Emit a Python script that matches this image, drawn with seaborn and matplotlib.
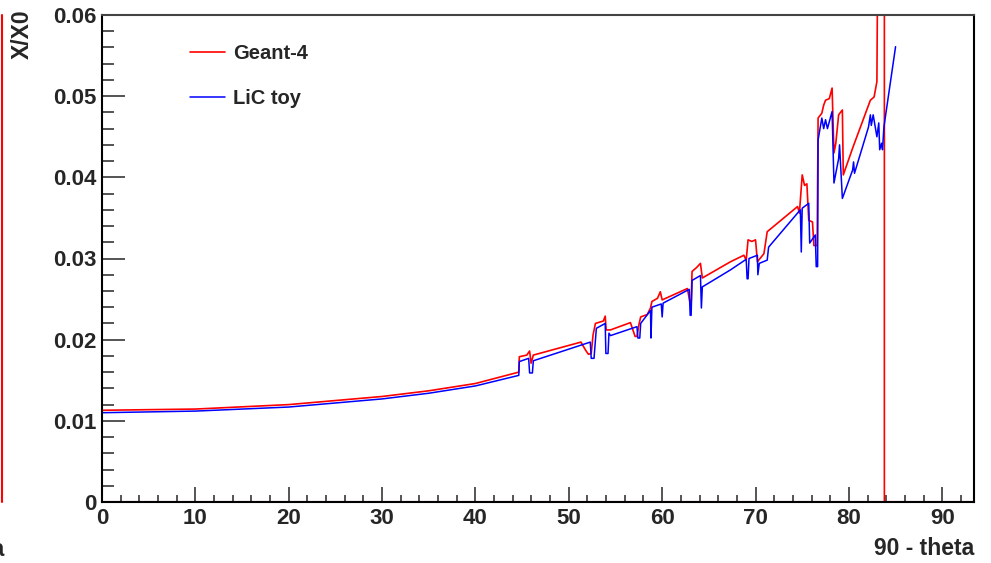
"""
X/X0 material budget vs 90 - theta: Geant-4 against LiC toy
"""
import numpy as np
import pandas as pd
import matplotlib
matplotlib.use('Agg')
import matplotlib.pyplot as plt
from matplotlib.ticker import MultipleLocator, FuncFormatter
from matplotlib.lines import Line2D
import seaborn as sns

# Geant-4 (red)
g4_angle = [0, 10, 20, 30, 35, 40, 44.64, 44.7, 45.5, 45.8, 45.96, 46.2, 51.3, 51.8, 52.1, 52.4,
            52.6, 52.85, 53.7, 53.9, 54.0, 54.46, 56.6, 57.1, 57.3, 57.5, 57.7, 58.4, 58.75,
            58.9, 59.5, 59.8, 60.0, 62.7, 62.96, 63.1, 63.2, 63.7, 64.1, 64.3, 67.32, 68.75,
            69.0, 69.2, 69.6, 70.0, 70.2, 70.9, 71.25, 74.5, 74.7, 75.0, 75.25, 75.5, 75.7,
            76.1, 76.25, 76.6, 76.7, 77.1, 77.3, 77.5, 77.9, 78.2, 78.4, 78.6, 78.9, 79.3,
            79.4, 80.4, 82.3, 82.7, 83.0, 83.1, 83.8, 83.8, 93.4, 93.4]
g4_x0 = [0.0113, 0.01145, 0.0120, 0.0130, 0.0137, 0.0146, 0.0160, 0.0179, 0.0181, 0.0186,
         0.0171, 0.0181, 0.0197, 0.0187, 0.0182, 0.0183, 0.0206, 0.0220, 0.0223, 0.0229,
         0.0212, 0.0212, 0.0221, 0.0204, 0.0204, 0.0218, 0.0228, 0.0231, 0.0239, 0.0247,
         0.0251, 0.0259, 0.0249, 0.0263, 0.0247, 0.0243, 0.0284, 0.0289, 0.0294, 0.0276,
         0.0296, 0.0304, 0.0298, 0.0323, 0.0321, 0.0323, 0.0296, 0.0306, 0.0333, 0.0364,
         0.0356, 0.0403, 0.0390, 0.0392, 0.0347, 0.0345, 0.0316, 0.0316, 0.0473, 0.0479,
         0.0489, 0.0495, 0.0497, 0.0510, 0.0430, 0.0442, 0.0477, 0.0483, 0.0403, 0.0436,
         0.0495, 0.0499, 0.0518, 0.0700, 0.0700, 0.0, 0.0, 0.0700]

# LiC toy (blue)
lic_angle = [0, 10, 20, 30, 35, 40, 44.64, 44.7, 45.7, 45.8, 46.1, 46.2, 52.3, 52.4, 52.7,
             52.95, 53.9, 53.97, 54.2, 54.3, 54.46, 57.3, 57.4, 57.6, 57.7, 58.75, 58.8,
             58.9, 59.9, 60.0, 60.1, 62.9, 63.0, 63.1, 63.2, 64.1, 64.2, 64.3, 67.32, 69.0,
             69.1, 69.2, 69.3, 70.2, 70.25, 70.4, 71.25, 71.4, 74.8, 74.9, 75.0, 75.7, 75.8,
             76.4, 76.5, 76.65, 76.7, 77.1, 77.3, 77.5, 77.7, 78.2, 78.4, 78.6, 78.9, 79.0,
             79.3, 80.4, 80.5, 80.6, 82.1, 82.3, 82.4, 82.6, 83.0, 83.2, 83.3, 83.5, 83.6,
             83.75, 85.0]
lic_x0 = [0.0110, 0.0112, 0.0117, 0.0127, 0.0134, 0.0143, 0.0156, 0.0173, 0.0177, 0.0159,
          0.0159, 0.0174, 0.0197, 0.0177, 0.0177, 0.0214, 0.0220, 0.0183, 0.0183, 0.0208,
          0.0205, 0.0216, 0.0202, 0.0202, 0.0220, 0.0236, 0.0202, 0.0240, 0.0244, 0.0228,
          0.0245, 0.0262, 0.0230, 0.0230, 0.0273, 0.0279, 0.0239, 0.0265, 0.0286, 0.0299,
          0.0275, 0.0275, 0.0300, 0.0304, 0.0280, 0.0294, 0.0298, 0.0314, 0.0360, 0.0308,
          0.0362, 0.0368, 0.0319, 0.0329, 0.0290, 0.0290, 0.0446, 0.0473, 0.0460, 0.0471,
          0.0460, 0.0481, 0.0393, 0.0405, 0.0423, 0.0440, 0.0374, 0.0409, 0.0419, 0.0405,
          0.0462, 0.0477, 0.0464, 0.0477, 0.0450, 0.0467, 0.0434, 0.0442, 0.0434, 0.0462,
          0.0561]

x_ticks = [0, 10, 20, 30, 40, 50, 60, 70, 80, 90]
y_ticks = [0, 0.01, 0.02, 0.03, 0.04, 0.05, 0.06]

sns.set_style('ticks')
plt.rcParams['font.family'] = ['Liberation Sans', 'DejaVu Sans']
plt.rcParams['font.weight'] = 'bold'

fig = plt.figure(figsize=(9.91, 5.63), dpi=100)
ax = fig.add_axes([102 / 991, 1 - 502 / 563, 872 / 991, 487 / 563])

ax.axhline(0, color='red', lw=1.5, zorder=1)
sns.lineplot(x=g4_angle, y=g4_x0, sort=False, estimator=None, color='red', lw=1.2,
             label='Geant-4', ax=ax)
sns.lineplot(x=lic_angle, y=lic_x0, sort=False, estimator=None, color='blue', lw=1.1,
             label='LiC toy', ax=ax)

ax.set_xlim(0, 93.4)
ax.set_ylim(0, 0.06)
ax.set_xticks(x_ticks)
ax.set_yticks(y_ticks)
ax.xaxis.set_minor_locator(MultipleLocator(2))
ax.yaxis.set_minor_locator(MultipleLocator(0.002))
ax.yaxis.set_major_formatter(FuncFormatter(lambda v, p: '%g' % v))
ax.tick_params(axis='y', which='major', direction='in', length=16.5, width=1.1, pad=4,
               labelsize=16)
ax.tick_params(axis='y', which='minor', direction='in', length=8.4, width=1.1)
ax.tick_params(axis='x', which='major', direction='in', length=10.8, width=1.1, pad=4,
               labelsize=16)
ax.tick_params(axis='x', which='minor', direction='in', length=4.8, width=1.1)
for lab in ax.get_xticklabels() + ax.get_yticklabels():
    lab.set_fontweight('bold')

for side in ['left', 'bottom', 'right', 'top']:
    ax.spines[side].set_linewidth(1.5)
    ax.spines[side].set_color('black')
ax.spines['top'].set_color('#444444')

ax.set_ylabel('')
fig.text(22 / 991, 1 - 9 / 563, 'X/X0', rotation=90, ha='center', va='top', fontsize=16.5,
         fontweight='bold')
ax.set_xlabel('90 - theta', loc='right', fontsize=16.5, fontweight='bold')
ax.xaxis.set_label_coords(1.0, -0.072)

ax.legend(loc='upper left', bbox_to_anchor=(0.101, 0.94), frameon=False, fontsize=14.5,
          handlelength=1.75, handletextpad=0.4, labelspacing=1.3, borderpad=0,
          borderaxespad=0)

# neighbouring pad bleeding in at the left edge
fig.add_artist(Line2D([2 / 991, 2 / 991], [1 - 15 / 563, 1 - 502 / 563], color='red', lw=1.5))
fig.text(0.004, 1 - 550 / 563, '90 - theta', ha='right', va='center', fontsize=16.5,
         fontweight='bold')

fig.savefig('out.png', dpi=100)
